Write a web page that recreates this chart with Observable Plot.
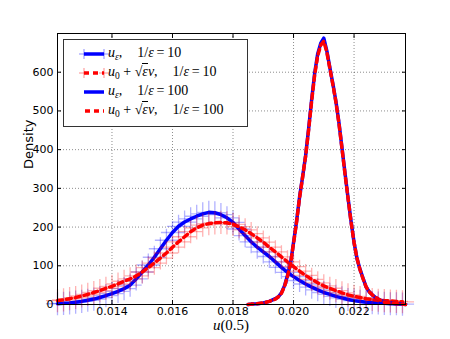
<!DOCTYPE html>
<html><head><meta charset="utf-8">
<script src="https://cdn.jsdelivr.net/npm/d3@7"></script>
<script src="https://cdn.jsdelivr.net/npm/@observablehq/plot@0.6"></script>
<style>
body{margin:0;background:#fff;}
#wrap{position:relative;width:450px;height:339px;overflow:hidden;background:#fff;}
.math{font-family:"Liberation Serif","DejaVu Serif",serif;color:#000;white-space:nowrap;}
#legend{position:absolute;left:63px;top:39px;width:185px;height:88px;box-sizing:border-box;border:1px solid #333;background:#fff;}
.row{position:absolute;left:44px;font-size:14px;line-height:16px;}
.sq{border-top:1px solid #000;}
.sub{font-size:9.5px;vertical-align:-3px;}
#xlabel{position:absolute;left:181px;width:100px;text-align:center;top:318px;font-size:15px;line-height:15px;}
</style></head><body><div id="wrap"></div>
<script>
// x positions of the 1/eps = 10 histograms (u(0.5) values)
const x10 = [0.0122,0.0124,0.0126,0.0128,0.0130,0.0132,0.0134,0.0136,0.0138,0.0140,
  0.0142,0.0144,0.0146,0.0148,0.0150,0.0152,0.0154,0.0156,0.0158,0.0160,
  0.0162,0.0164,0.0166,0.0168,0.0170,0.0172,0.0174,0.0176,0.0178,0.0180,
  0.0182,0.0184,0.0186,0.0188,0.0190,0.0192,0.0194,0.0196,0.0198,0.0200,
  0.0202,0.0204,0.0206,0.0208,0.0210,0.0212,0.0214,0.0216,0.0218,0.0220,
  0.0222,0.0224,0.0226,0.0228,0.0230,0.0232,0.0234,0.0236];
// u_eps, 1/eps = 10
const uEps10 = [2,3,4,6,8,11,14,18,23,28,
  34,41,50,66,84,102,122,144,166,186,
  202,213,221,228,234,238,237,232,224,212,
  195,178,162,148,136,124,110,96,83,72,
  62,53,45,38,31,26,21,17,13,10,
  8,6,5,4,3,2,2,1];
// u_0 + sqrt(eps) v, 1/eps = 10
const uApp10 = [10,12,15,18,22,26,31,36,42,47,
  53,60,66,74,84,95,107,120,133,148,
  162,175,188,198,205,209,211,212,211,207,
  201,193,183,172,161,148,136,123,110,98,
  86,75,65,56,48,42,36,30,25,21,
  18,15,13,11,10,9,8,7];
// x positions of the 1/eps = 100 curves
const x100 = [0.0185,0.0186,0.0188,0.0190,0.0192,0.0194,0.0195,0.0196,0.0197,0.0198,
  0.0199,0.0200,0.0201,0.0202,0.0203,0.0204,0.0205,0.0206,0.0207,0.0208,
  0.0209,0.0210,0.0211,0.0212,0.0213,0.0214,0.0215,0.0216,0.0217,0.0218,
  0.0219,0.0220,0.0221,0.0222,0.0223,0.0224,0.0225,0.0226,0.0227,0.0228,
  0.0230,0.0232,0.0234,0.0236,0.0237];
const uEps100 = [0,1,2,4,8,15,20,30,48,75,
  105,160,215,278,330,385,455,530,598,648,
  675,688,655,612,570,525,470,405,340,276,
  215,160,118,90,67,45,33,25,19,14,
  6,4,2,1,0];
const uApp100 = [0,1,2,4,8,14,20,29,46,73,
  104,158,213,276,329,384,452,527,594,643,
  670,680,652,610,568,523,468,404,338,275,
  214,160,118,89,66,45,33,25,19,14,
  6,4,2,1,0];
const xTicks = [0.014,0.016,0.018,0.020,0.022];
const xTickLabels = ["0.014","0.016","0.018","0.020","0.022"];
const yTicks = [0,100,200,300,400,500,600];

const d10 = x10.map((x,i)=>({x, ue:uEps10[i], ua:uApp10[i]}));
const d100 = x100.map((x,i)=>({x, ue:uEps100[i], ua:uApp100[i]}));

const fmtX = d => xTickLabels[xTicks.findIndex(t => Math.abs(t-d)<1e-9)] ?? "";

const chart = Plot.plot({
  width: 450, height: 339,
  marginLeft: 57, marginRight: 45, marginTop: 33, marginBottom: 35,
  style: {fontFamily: "'DejaVu Sans', sans-serif", fontSize: "11px", color: "#000", background: "#fff"},
  x: {domain: [0.0122, 0.0237]},
  y: {domain: [0, 700]},
  marks: [
    Plot.gridX(xTicks, {stroke: "#000", strokeOpacity: 0.45, strokeDasharray: "1,2"}),
    Plot.gridY(yTicks, {stroke: "#000", strokeOpacity: 0.45, strokeDasharray: "1,2"}),
    Plot.dot(d10, {x: "x", y: "ue", symbol: "plus", r: 7.5, stroke: "#0000ff", strokeOpacity: 0.3, strokeWidth: 1.3}),
    Plot.line(d10, {x: "x", y: "ue", stroke: "#0000ff", strokeWidth: 3.5}),
    Plot.dot(d10, {x: "x", y: "ua", symbol: "plus", r: 7.5, stroke: "#ff0000", strokeOpacity: 0.3, strokeWidth: 1.3}),
    Plot.line(d10, {x: "x", y: "ua", stroke: "#ff0000", strokeWidth: 3.5, strokeDasharray: "5,4"}),
    Plot.line(d100, {x: "x", y: "ue", stroke: "#0000ff", strokeWidth: 3.5}),
    Plot.line(d100, {x: "x", y: "ua", stroke: "#ff0000", strokeWidth: 3.5, strokeDasharray: "5,4"}),
    Plot.frame({stroke: "#000", strokeWidth: 1}),
    Plot.axisY(yTicks, {anchor: "left", tickSize: -4, tickPadding: 8, label: null, fontSize: 11}),
    Plot.axisY(yTicks, {anchor: "right", tickSize: -4, tickFormat: () => "", label: null}),
    Plot.axisX(xTicks, {anchor: "bottom", tickSize: -4, tickPadding: 7, tickFormat: fmtX, label: null, fontSize: 11}),
    Plot.axisX(xTicks, {anchor: "top", tickSize: -4, tickFormat: () => "", label: null}),
    Plot.text(["Density"], {frameAnchor: "left", dx: -29, rotate: -90, fontSize: 13, text: d => d})
  ]
});
const wrap = document.getElementById("wrap");
wrap.appendChild(chart);

// legend
const plusB = (cx, col) => `<line x1="${cx-5}" y1="7" x2="${cx+5}" y2="7" stroke="${col}" stroke-opacity="0.35" stroke-width="1.3"/><line x1="${cx}" y1="2" x2="${cx}" y2="12" stroke="${col}" stroke-opacity="0.35" stroke-width="1.3"/>`;
const sp = `<span style="display:inline-block;width:15px"></span>`;
const rows = [
  {sw: plusB(20,"#0000ff")+plusB(40,"#0000ff")+`<line x1="20" y1="7" x2="40" y2="7" stroke="#0000ff" stroke-width="3.5"/>`,
   txt: `<i>u</i><span class="sub"><i>ε</i></span>,${sp}1/<i>ε</i>&thinsp;=&thinsp;10`},
  {sw: plusB(20,"#ff0000")+plusB(40,"#ff0000")+`<line x1="20" y1="7" x2="40" y2="7" stroke="#ff0000" stroke-width="3.5" stroke-dasharray="5,4"/>`,
   txt: `<i>u</i><span class="sub">0</span> + √<span class="sq"><i>ε</i></span><i>v</i>,${sp}1/<i>ε</i>&thinsp;=&thinsp;10`},
  {sw: `<line x1="20" y1="7" x2="40" y2="7" stroke="#0000ff" stroke-width="3.5"/>`,
   txt: `<i>u</i><span class="sub"><i>ε</i></span>,${sp}1/<i>ε</i>&thinsp;=&thinsp;100`},
  {sw: `<line x1="21" y1="7" x2="40" y2="7" stroke="#ff0000" stroke-width="3.5" stroke-dasharray="5,4"/>`,
   txt: `<i>u</i><span class="sub">0</span> + √<span class="sq"><i>ε</i></span><i>v</i>,${sp}1/<i>ε</i>&thinsp;=&thinsp;100`}
];
const rowY = [14, 33, 52, 71];
let html = "";
rows.forEach((r, i) => {
  html += `<svg style="position:absolute;left:0;top:${rowY[i]-7}px" width="46" height="14">${r.sw}</svg>`;
  html += `<div class="row math" style="top:${rowY[i]-9}px">${r.txt}</div>`;
});
const leg = document.createElement("div");
leg.id = "legend";
leg.innerHTML = html;
wrap.appendChild(leg);

const xl = document.createElement("div");
xl.id = "xlabel";
xl.className = "math";
xl.innerHTML = `<i>u</i>(0.5)`;
wrap.appendChild(xl);
</script>
</body></html>
